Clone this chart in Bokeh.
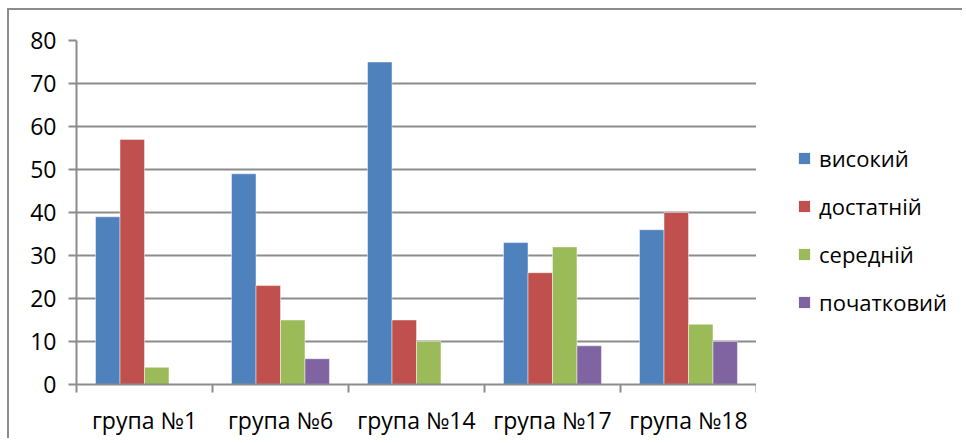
from bokeh.plotting import figure
from bokeh.models import Range1d, FixedTicker, Legend, LegendItem, ColumnDataSource
from bokeh.layouts import row
from bokeh.embed import file_html
from bokeh.resources import INLINE

groups = ["група №1", "група №6", "група №14", "група №17", "група №18"]
series = ["високий", "достатній", "середній", "початковий"]
colors = ["#4F81BD", "#C0504D", "#9BBB59", "#8064A2"]
vysokyi = [39, 49, 75, 33, 36]
dostatnii = [57, 23, 15, 26, 40]
serednii = [4, 15, 10, 32, 14]
pochatkovyi = [0, 6, 0, 9, 10]
values = [vysokyi, dostatnii, serednii, pochatkovyi]
y_ticks = [0, 10, 20, 30, 40, 50, 60, 70, 80]

FONT = "Open Sans"
GRAY = "#8c8c8c"
FS = "23px"

p = figure(frame_width=680, frame_height=344, output_backend="svg", toolbar_location=None,
           x_range=Range1d(0, len(groups)), y_range=Range1d(0, 80),
           min_border_left=67, min_border_right=0, min_border_top=30, min_border_bottom=44)
p.outline_line_color = None
p.background_fill_color = "white"
p.border_fill_color = "white"

bar_w = 0.18
offsets = [-0.27, -0.09, 0.09, 0.27]
for s, col, vals, off in zip(series, colors, values, offsets):
    src = ColumnDataSource(dict(x=[i + 0.5 + off for i in range(len(groups))], top=vals))
    p.vbar(x="x", top="top", bottom=0, width=bar_w, source=src,
           fill_color=col, line_color="white", line_alpha=0.45, line_width=1)

# axes
p.xaxis.ticker = FixedTicker(ticks=[i + 0.5 for i in range(len(groups))],
                             minor_ticks=list(range(len(groups) + 1)))
p.xaxis.major_label_overrides = {i + 0.5: g for i, g in enumerate(groups)}
p.xaxis.major_tick_line_color = None
p.xaxis.major_tick_out = 0
p.xaxis.major_tick_in = 0
p.xaxis.minor_tick_line_color = GRAY
p.xaxis.minor_tick_line_width = 2
p.xaxis.minor_tick_out = 8
p.xaxis.minor_tick_in = 0
p.xaxis.major_label_standoff = 11

p.yaxis.ticker = FixedTicker(ticks=y_ticks, minor_ticks=[])
p.yaxis.major_tick_line_color = GRAY
p.yaxis.major_tick_line_width = 2
p.yaxis.major_tick_out = 8
p.yaxis.major_tick_in = 0
p.yaxis.major_label_standoff = 12

for ax in [p.xaxis[0], p.yaxis[0]]:
    ax.axis_line_color = GRAY
    ax.axis_line_width = 2
    ax.major_label_text_font = FONT
    ax.major_label_text_font_size = FS
    ax.major_label_text_color = "black"

p.xgrid.grid_line_color = None
p.ygrid.grid_line_color = GRAY
p.ygrid.grid_line_width = 2
p.ygrid.ticker = FixedTicker(ticks=y_ticks)

# legend panel (separate figure to the right)
lg = figure(width=206, height=418, output_backend="svg", toolbar_location=None,
            x_axis_type=None, y_axis_type=None, x_range=Range1d(0, 1), y_range=Range1d(0, 1),
            min_border=0)
lg.outline_line_color = None
lg.xgrid.grid_line_color = None
lg.ygrid.grid_line_color = None
lg.border_fill_color = "white"
lg.background_fill_color = "white"
items = []
for s, col in zip(series, colors):
    r = lg.vbar(x=[-5], top=[0], width=0.1, fill_color=col, line_color=None)
    items.append(LegendItem(label=s, renderers=[r]))

legend = Legend(items=items, location=(41, 56), padding=0, margin=0,
                border_line_color=None, background_fill_alpha=0,
                glyph_width=14, glyph_height=14, label_height=32,
                spacing=16, label_standoff=8,
                label_text_font=FONT, label_text_font_size="22px",
                label_text_color="black")
lg.add_layout(legend)

layout = row(p, lg, spacing=0)
layout.styles = {"border-top": "2px solid #8c8c8c", "border-left": "2px solid #8c8c8c",
                 "margin-left": "7px", "margin-top": "8px"}

open("out.html", "w").write(file_html(layout, INLINE))
